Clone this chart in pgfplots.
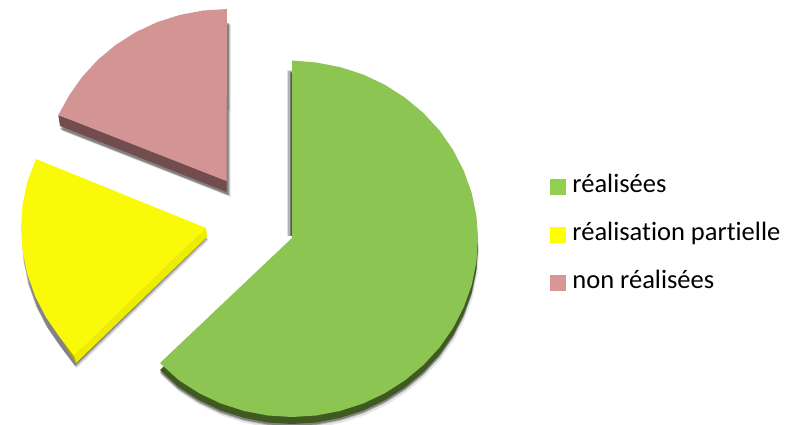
\documentclass[border=0pt]{standalone}
\usepackage{fontspec}
\setmainfont{Carlito}[Ligatures=NoCommon]
\usepackage{pgfplots}
\usepackage{pgfplotstable}
\pgfplotsset{compat=1.18}
\definecolor{gtop}{HTML}{8CC552}
\definecolor{gside}{HTML}{3F5A20}
\definecolor{ytop}{HTML}{FAFA08}
\definecolor{yside}{HTML}{EDED00}
\definecolor{ydark}{HTML}{B0A800}
\definecolor{rtop}{HTML}{D39594}
\definecolor{rside}{HTML}{734D4D}
\definecolor{lg}{HTML}{92D050}
\definecolor{ly}{HTML}{FFFF00}
\definecolor{lr}{HTML}{D99694}
\pgfplotstableread{
x y
292 238
292 60.5
316.3 62.5
340.1 67.1
363.2 74.5
385 84.9
405.2 97.8
423.5 113.1
439.6 130.6
453.1 150
463.8 170.9
471.7 192.9
476.4 215.8
478 239
476.4 262.2
471.7 285.1
463.8 307.1
453.1 328
439.6 347.4
423.5 364.9
405.2 380.2
385 393.1
363.2 403.5
340.1 410.9
316.3 415.5
292 417
267.7 415.5
243.9 410.9
220.8 403.5
199 393.1
178.8 380.2
160 363
}\greenslice
\pgfplotstableread{
x y
206 228
74 356
59.2 336.4
45.8 317
35.1 296.1
27.3 274.1
22.6 251.2
21 228
22.6 204.8
27.3 181.9
36 159
}\yellowslice
\pgfplotstableread{
x y
226.5 181
58.3 115
69.4 95
82.6 76.3
98.3 59.4
116.2 44.5
136 32
157.3 22.1
179.9 14.9
203.2 10.5
227 9
}\redslice
\pgfplotsset{
  sh/.style={draw=none,fill=black,fill opacity=#1,forget plot,mark=none},
  sl/.style={draw=none,fill=#1,forget plot,mark=none},
}
\begin{document}
\begin{tikzpicture}
\path[use as bounding box] (0,0) rectangle (790pt,425pt);
\begin{axis}[
  at={(0,0)},anchor=south west,
  width=790pt,height=425pt,scale only axis,
  xmin=0,xmax=790,ymin=0,ymax=425,y dir=reverse,
  hide axis,
  legend style={at={(axis cs:550,176)},anchor=north west,draw=none,fill=none,
    row sep=27pt,inner sep=0pt,outer sep=0pt,
    nodes={inner sep=0pt,outer sep=0pt,text height=16pt,text depth=5pt},
    font=\fontsize{26.5}{26.5}\selectfont},
  legend cell align=left,
]
% shadows
\addplot[sh=0.10] table[x expr=\thisrow{x}+1,y expr=\thisrow{y}+12]{\greenslice};
\addplot[sh=0.18] table[x expr=\thisrow{x},y expr=\thisrow{y}+10]{\greenslice};
\addplot[sh=0.3] table[x expr=\thisrow{x},y expr=\thisrow{y}+9]{\greenslice};
\addplot[sh=0.10] table[x expr=\thisrow{x}+3,y expr=\thisrow{y}+12]{\yellowslice};
\addplot[sh=0.18] table[x expr=\thisrow{x}+2,y expr=\thisrow{y}+11]{\yellowslice};
\addplot[sh=0.3] table[x expr=\thisrow{x}+1,y expr=\thisrow{y}+10]{\yellowslice};
\addplot[sh=0.10] table[x expr=\thisrow{x}+4,y expr=\thisrow{y}+16]{\redslice};
\addplot[sh=0.18] table[x expr=\thisrow{x}+3,y expr=\thisrow{y}+15]{\redslice};
\addplot[sh=0.3] table[x expr=\thisrow{x}+2,y expr=\thisrow{y}+14]{\redslice};
% left shadow strip of the green slice
\addplot[sh=0.12] coordinates {(286.5,70) (292,70) (292,236) (286.5,236)};
\addplot[sh=0.2] coordinates {(288,71) (292,71) (292,236) (288,236)};
\addplot[sh=0.3] coordinates {(289.5,72) (292,72) (292,236) (289.5,236)};
\addplot[sh=0.3] coordinates {(291,73) (292,73) (292,236) (291,236)};
% sides
\addplot[sl=gside] table[x expr=\thisrow{x},y expr=\thisrow{y}+7]{\greenslice};
\addplot[sl=yside] coordinates {(74,356) (206,228) (207,237) (76,363)};
\addplot[sl=ydark] coordinates {(63,343) (74,356) (76,363)};
\addplot[sl=rside] coordinates {(58.3,115) (226.5,181) (226.5,192) (60,126)};
% top faces
\addplot[sl=gtop] table{\greenslice};
\addplot[sl=ytop] table{\yellowslice};
\addplot[sl=rtop] table{\redslice};
% legend
\addlegendimage{legend image code/.code={\fill[lg] (0pt,-7.5pt) rectangle (15pt,7.5pt);}}
\addlegendentry{\hspace{7pt}réalisées}
\addlegendimage{legend image code/.code={\fill[ly] (0pt,-7.5pt) rectangle (15pt,7.5pt);}}
\addlegendentry{\hspace{7pt}réalisation partielle}
\addlegendimage{legend image code/.code={\fill[lr] (0pt,-7.5pt) rectangle (15pt,7.5pt);}}
\addlegendentry{\hspace{7pt}non réalisées}
\end{axis}
\end{tikzpicture}
\end{document}
